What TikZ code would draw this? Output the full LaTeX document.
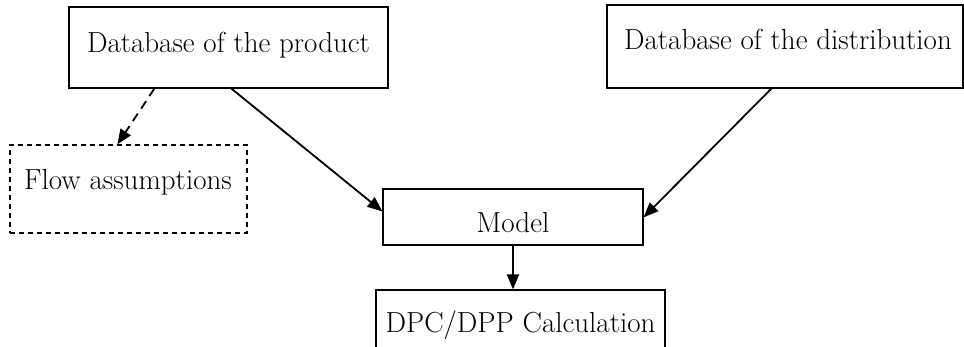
\documentclass[tikz,border=0pt]{standalone}
\usetikzlibrary{arrows.meta,calc}
\tikzset{
  box/.style={draw, line width=1.2pt, inner sep=0pt, rectangle},
  dbox/.style={box, dash pattern=on 5pt off 4pt},
  lbl/.style={inner sep=0pt, anchor=base, font=\fontsize{29}{33}\selectfont},
  conn/.style={line width=1.8pt, -{Triangle[length=15pt,width=12pt]}},
  dconn/.style={conn, dash pattern=on 9pt off 6pt},
}
\begin{document}
\begin{tikzpicture}[x=1pt,y=1pt]
\useasboundingbox (0,0) rectangle (964,347);
\clip (0,0) rectangle (964,347);
\node[box, minimum width=319pt, minimum height=81pt] (prod) at (228.5,299.5) {};
\node[lbl] (prodt) at (228.5,294) {Database of the product};
\node[dbox, minimum width=237pt, minimum height=88pt] (flow) at (128.5,158) {};
\node[lbl] (flowt) at (128,157) {Flow assumptions};
\node[box, minimum width=356pt, minimum height=83pt] (dist) at (785,300.5) {};
\node[lbl] (distt) at (788,297) {Database of the distribution};
\node[box, minimum width=260pt, minimum height=56pt] (model) at (513,130) {};
\node[lbl] (modelt) at (513,114) {Model};
\node[box, minimum width=289pt, minimum height=70pt] (dpc) at (520.5,22) {};
\node[lbl] (dpct) at (520.5,14) {DPC/DPP Calculation};
\draw[dconn] ([xshift=86pt]prod.south west) -- ([xshift=108pt]flow.north west);
\draw[conn] ([xshift=163pt]prod.south west) -- ([yshift=-23pt]model.north west);
\draw[conn] ([xshift=165pt]dist.south west) -- ([yshift=-29pt]model.north east);
\draw[conn] (model.south) -- (model.south |- dpc.north);
\end{tikzpicture}
\end{document}
